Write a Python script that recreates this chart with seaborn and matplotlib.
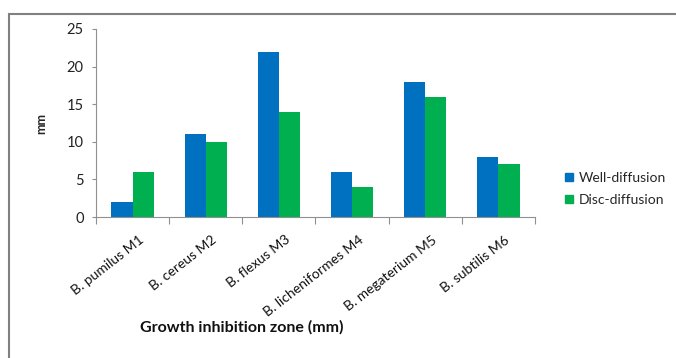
import pandas as pd
import matplotlib.pyplot as plt
import seaborn as sns
from matplotlib.patches import Rectangle
from matplotlib.lines import Line2D
from matplotlib.transforms import ScaledTranslation

# data
strains = ['B. pumilus M1', 'B. cereus M2', 'B. flexus M3',
           'B. licheniformes M4', 'B. megaterium M5', 'B. subtilis M6']
well_diffusion = [2, 11, 22, 6, 18, 8]
disc_diffusion = [6, 10, 14, 4, 16, 7]
methods = ['Well-diffusion', 'Disc-diffusion']
colors = ['#0070C0', '#00B050']

df = pd.DataFrame({
    'strain': strains * 2,
    'method': [methods[0]] * len(strains) + [methods[1]] * len(strains),
    'mm': well_diffusion + disc_diffusion,
})

sns.set_style('white')
plt.rcParams['font.family'] = ['Lato', 'DejaVu Sans']

fig = plt.figure(figsize=(6.76, 3.58), dpi=100)
ax = fig.add_axes([96 / 676, 1 - 217 / 358, 439 / 676, 188 / 358])

sns.barplot(data=df, x='strain', y='mm', hue='method', palette=colors,
            width=0.58, gap=0, saturation=1, linewidth=0, ax=ax, legend=False)

ax.set_ylim(0, 25)
ax.set_xlim(-0.5, len(strains) - 0.5)
ax.set_yticks(range(0, 26, 5))
ax.tick_params(axis='y', labelsize=10.5, colors='#909090', length=3, width=0.8,
               left=True, pad=6)
for lab in ax.get_yticklabels():
    lab.set_color('#222222')

# Excel style: ticks at category boundaries, labels at centers
ax.set_xticks([i - 0.5 for i in range(len(strains) + 1)])
ax.set_xticklabels([])
ax.tick_params(axis='x', which='major', length=5, width=0.8, colors='#909090',
               bottom=True)
ax.set_xticks(range(len(strains)), minor=True)
ax.set_xticklabels(strains, minor=True, rotation=38, ha='right',
                   rotation_mode='anchor', fontsize=10, color='#111111')
ax.tick_params(axis='x', which='minor', length=0, pad=12)
shift = ScaledTranslation(6 / 100, 0, fig.dpi_scale_trans)
for lab in ax.get_xticklabels(minor=True):
    lab.set_transform(lab.get_transform() + shift)

for s in ['top', 'right']:
    ax.spines[s].set_visible(False)
for s in ['left', 'bottom']:
    ax.spines[s].set_color('#909090')
    ax.spines[s].set_linewidth(0.8)

ax.set_xlabel('')
ax.set_ylabel('mm', fontsize=9, fontweight='bold', labelpad=14)
fig.text(242 / 676, 1 - 327 / 358, 'Growth inhibition zone (mm)',
         ha='center', va='center', fontsize=11.5, fontweight='bold', color='#111111')

handles = [Line2D([], [], marker='s', ls='', color=c, markersize=6) for c in colors]
fig.legend(handles, methods, loc='center left',
           bbox_to_anchor=(550 / 676, 1 - 189 / 358), frameon=False,
           fontsize=10, handletextpad=0.2, labelspacing=0.7, handlelength=1)

# outer frame of the picture
fig.add_artist(Rectangle((9 / 676, -0.1), 1.0, 1.1 - 14 / 358,
                         transform=fig.transFigure, fill=False,
                         ec='#808080', lw=1.5))

plt.savefig('out.png', dpi=100)
